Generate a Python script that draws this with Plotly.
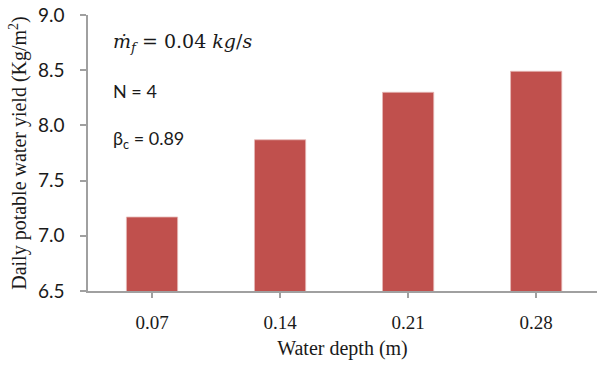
import plotly.graph_objects as go

categories = ["0.07", "0.14", "0.21", "0.28"]
yield_values = [7.17, 7.87, 8.30, 8.49]
y_ticks = [6.5, 7.0, 7.5, 8.0, 8.5, 9.0]
y_tick_labels = ["6.5", "7.0", "7.5", "8.0", "8.5", "9.0"]

fig = go.Figure()
fig.add_trace(go.Bar(
    x=categories, y=yield_values,
    marker=dict(color="#C0504D", line=dict(color="#E6B9B8", width=0.8)),
    width=0.4,
))

axis_color = "#A0A0A0"
fig.update_layout(
    width=597, height=365,
    margin=dict(l=88, r=0, t=15, b=74),
    paper_bgcolor="white", plot_bgcolor="white",
    showlegend=False,
    xaxis=dict(
        type="category",
        range=[-0.5, 3.475],
        showline=True, linecolor=axis_color, linewidth=1.5,
        ticks="outside", ticklen=5, tickcolor=axis_color, tickwidth=1.5,
        tickfont=dict(family="Liberation Serif", size=19, color="#1a1a1a"),
        ticklabelstandoff=8,
        showgrid=False,
        title=dict(text="Water depth (m)", standoff=9,
                   font=dict(family="Liberation Serif", size=20, color="#1a1a1a")),
    ),
    yaxis=dict(
        range=[6.5, 9.0],
        tickvals=y_ticks, ticktext=y_tick_labels,
        showline=True, linecolor=axis_color, linewidth=1.5,
        ticks="outside", ticklen=6, tickcolor=axis_color, tickwidth=1.5,
        tickfont=dict(family="Lato", size=19, color="#1a1a1a"),
        ticklabelstandoff=12,
        showgrid=False, zeroline=False,
        title=dict(text="Daily potable water yield (Kg/m<sup>2</sup>)", standoff=6,
                   font=dict(family="Liberation Serif", size=20, color="#1a1a1a")),
    ),
    annotations=[
        dict(xref="paper", yref="paper", x=0.045, y=0.90, xanchor="left", yanchor="middle",
             showarrow=False,
             text="<i>ṁ<sub>f</sub></i> = 0.04 <i>kg</i>/<i>s</i>",
             font=dict(family="DejaVu Serif", size=19, color="#1a1a1a")),
        dict(xref="paper", yref="paper", x=0.045, y=0.725, xanchor="left", yanchor="middle",
             showarrow=False, text="N = 4",
             font=dict(family="Lato", size=18, color="#1a1a1a")),
        dict(xref="paper", yref="paper", x=0.045, y=0.55, xanchor="left", yanchor="middle",
             showarrow=False, text="β<sub>c</sub> = 0.89",
             font=dict(family="Lato", size=18, color="#1a1a1a")),
    ],
)

fig.write_html("out.html")
